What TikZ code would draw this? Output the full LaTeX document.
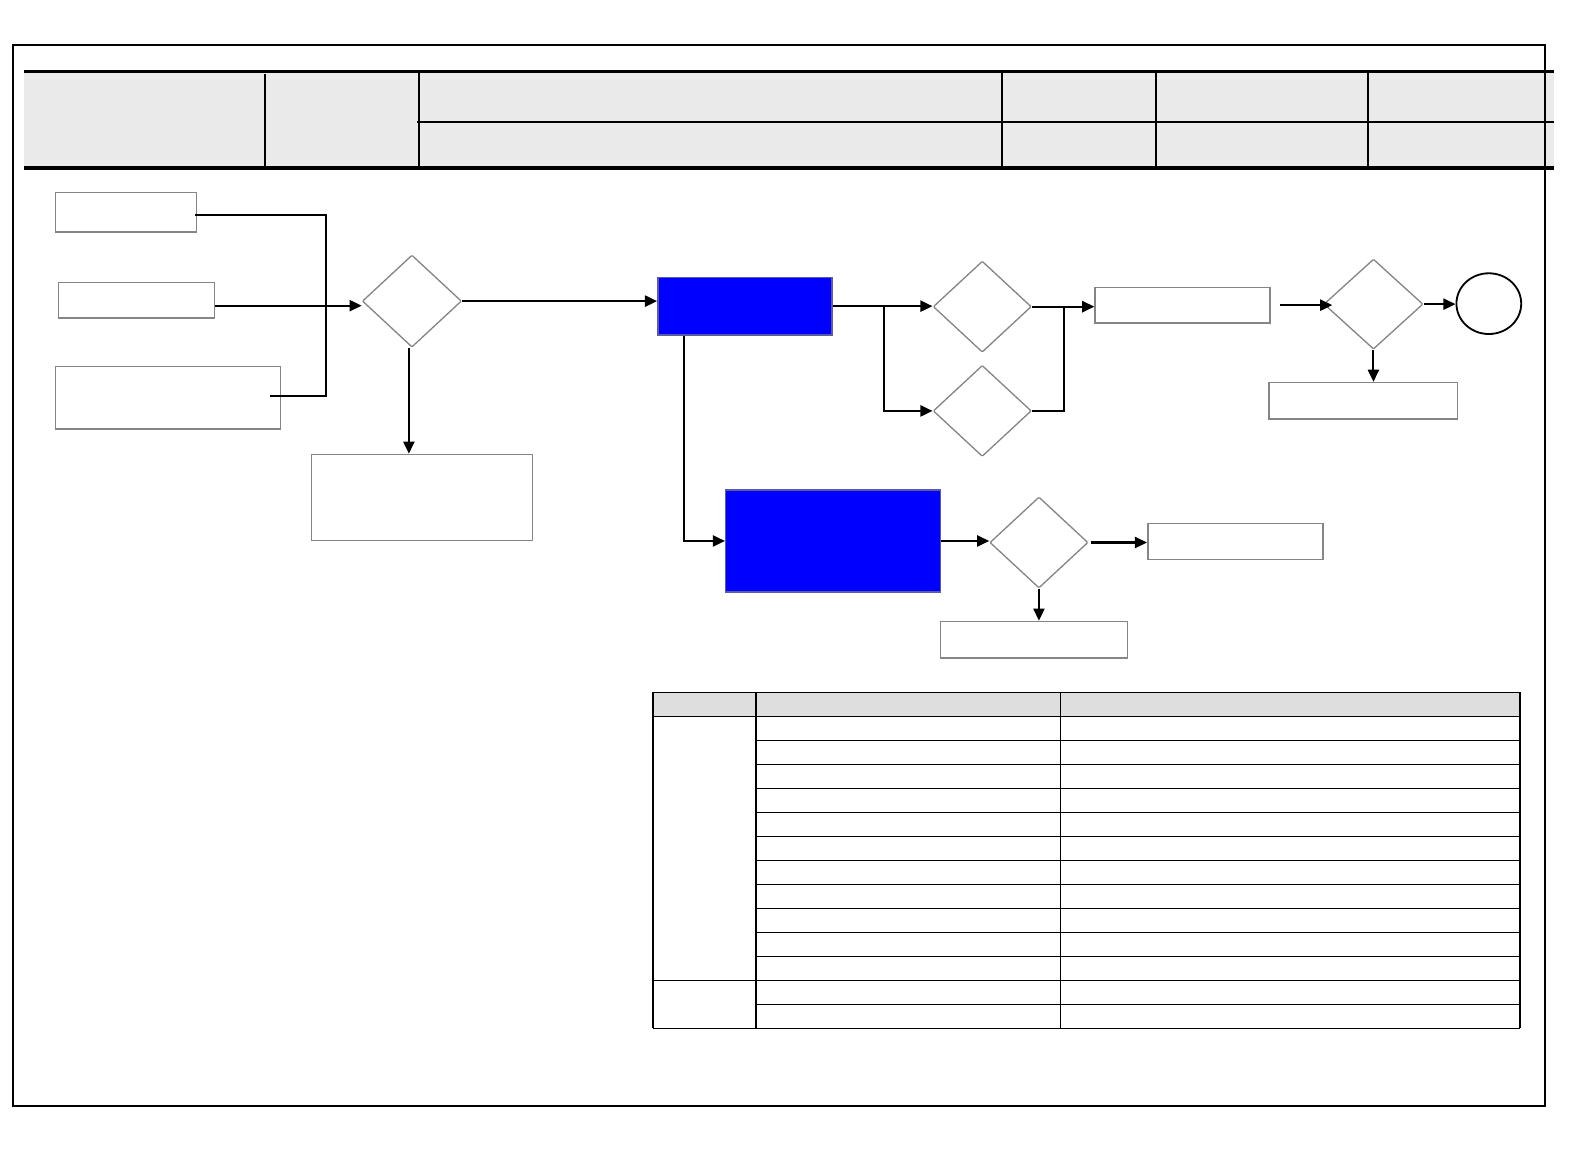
\documentclass[tikz,border=0pt]{standalone}
\usetikzlibrary{arrows.meta,shapes.geometric}
\definecolor{hdrgray}{HTML}{EAEAEA}
\definecolor{tblgray}{HTML}{DEDEDE}
\definecolor{boxline}{HTML}{858585}
\definecolor{bluefill}{HTML}{0000FF}
\definecolor{blueline}{HTML}{5A5AA8}
\begin{document}
\begin{tikzpicture}[x=1pt,y=-1pt,
  box/.style={draw=boxline,line width=1.5pt,fill=white,inner sep=0pt,rectangle},
  bluebox/.style={draw=blueline,line width=1.5pt,fill=bluefill,inner sep=0pt,rectangle},
  dia/.style={draw=boxline,line width=1.3pt,fill=white,shape=diamond,inner sep=0pt,rounded corners=1pt},
  conn/.style={draw=black,line width=2pt},
  arr/.style={conn,-{Triangle[length=12pt,width=11pt]}},
  rule/.style={draw=black,line width=2pt},
  thick rule/.style={draw=black,line width=3.2pt},
  tline/.style={draw=black,line width=1.5pt}]
\useasboundingbox[fill=white] (0,0) rectangle (1568,1148);

% header band
\fill[hdrgray] (24,71) rectangle (1535,166);
\draw[thick rule] (24,71) -- (1535,71);
\draw[thick rule] (24,166) -- (1535,166);
\draw[rule] (412,121) -- (1535,121);
\draw[rule] (262,73) -- (262,166);
\draw[rule] (414,71) -- (414,166);
\draw[rule] (990,71) -- (990,166);
\draw[rule] (1142,71) -- (1142,166);
\draw[rule] (1352,71) -- (1352,166);

% outer frame
\draw[rule] (13,44) rectangle (1526,1093);

% nodes
\node[box,minimum width=139,minimum height=39] (b1) at (124.5,209.5) {};
\node[box,minimum width=154,minimum height=35] (b2) at (135,296.5) {};
\node[box,minimum width=222,minimum height=62] (b3) at (166,393) {};
\node[box,minimum width=218,minimum height=85] (b4) at (417,491.5) {};
\node[dia,minimum width=98,minimum height=91] (d1) at (407,297.5) {};
\node[bluebox,minimum width=172,minimum height=57] (blue1) at (736,302.5) {};
\node[dia,minimum width=97,minimum height=90] (d2) at (970.5,303) {};
\node[dia,minimum width=97,minimum height=90] (d3) at (970.5,406) {};
\node[box,minimum width=173,minimum height=35] (b5) at (1168.5,301.5) {};
\node[dia,minimum width=98,minimum height=89] (d4) at (1357,300.5) {};
\node[draw=black,line width=1.8pt,ellipse,inner sep=0pt,minimum width=64,minimum height=60] (circ) at (1471,300) {};
\node[box,minimum width=186,minimum height=36] (b6) at (1347,396) {};
\node[bluebox,minimum width=212,minimum height=101] (blue2) at (823,534.5) {};
\node[dia,minimum width=97,minimum height=90] (d5) at (1026.5,536) {};
\node[box,minimum width=173,minimum height=36] (b7) at (1220.5,535) {};
\node[box,minimum width=185,minimum height=36] (b8) at (1021.5,632) {};

\coordinate (j1) at (322,391);
\coordinate (j0) at (322,212);
\coordinate (br) at (873,302.5);
\coordinate (j2) at (1051,303);
\coordinate (a2) at (212,302);
\coordinate (a1) at (404,343);

% connectors
\draw[conn] (j0 -| b1.east) ++(-2,0) -- (j0) -- (j1) -- ([xshift=-11pt]b3.east |- j1);
\draw[arr] (a2 -| b2.east) -- (a2 -| d1.west);
\draw[arr] (a1 |- d1.south) -- (a1 |- b4.north);
\draw[arr] (d1.east) -- (d1.east -| blue1.west);
\draw[arr] (blue1.east) -- (blue1.east -| d2.west);
\draw[arr] (br) |- (d3.west);
\draw[arr] (d2.east) -- (d2.east -| b5.west);
\draw[conn] (d3.east) -| (j2);
\draw[arr] ([xshift=9pt]b5.east) -- ([xshift=9pt]b5.east -| d4.west);
\draw[arr] (d4.east) -- (d4.east -| circ.west);
\draw[arr] (d4.south) -- (d4.south |- b6.north);
\draw[arr] ([xshift=-60pt]blue1.south) |- (blue2.west);
\draw[arr] (blue2.east) -- (blue2.east -| d5.west);
\draw[arr] ([xshift=2pt]d5.east) -- (d5.east -| b7.west);
\draw[arr] (d5.south) -- (d5.south |- b8.north);

% table
\fill[tblgray] (645,684) rectangle (1502,708);
\foreach \k in {0,...,13} {
  \pgfmathsetmacro{\yy}{708+\k*23.69}
  \ifnum\k=11
    \draw[tline] (645,\yy) -- (1502,\yy);
  \else
    \draw[tline] (747,\yy) -- (1502,\yy);
  \fi
}
\draw[tline] (645,708) -- (747,708);
\draw[tline] (645,1016) -- (747,1016);
\draw[tline] (645,684) -- (1502,684);
\draw[tline] (645,684) -- (645,1016);
\draw[tline] (747,684) -- (747,1016);
\draw[tline] (1048,684) -- (1048,1016);
\draw[tline] (1502,684) -- (1502,1016);
\end{tikzpicture}
\end{document}
